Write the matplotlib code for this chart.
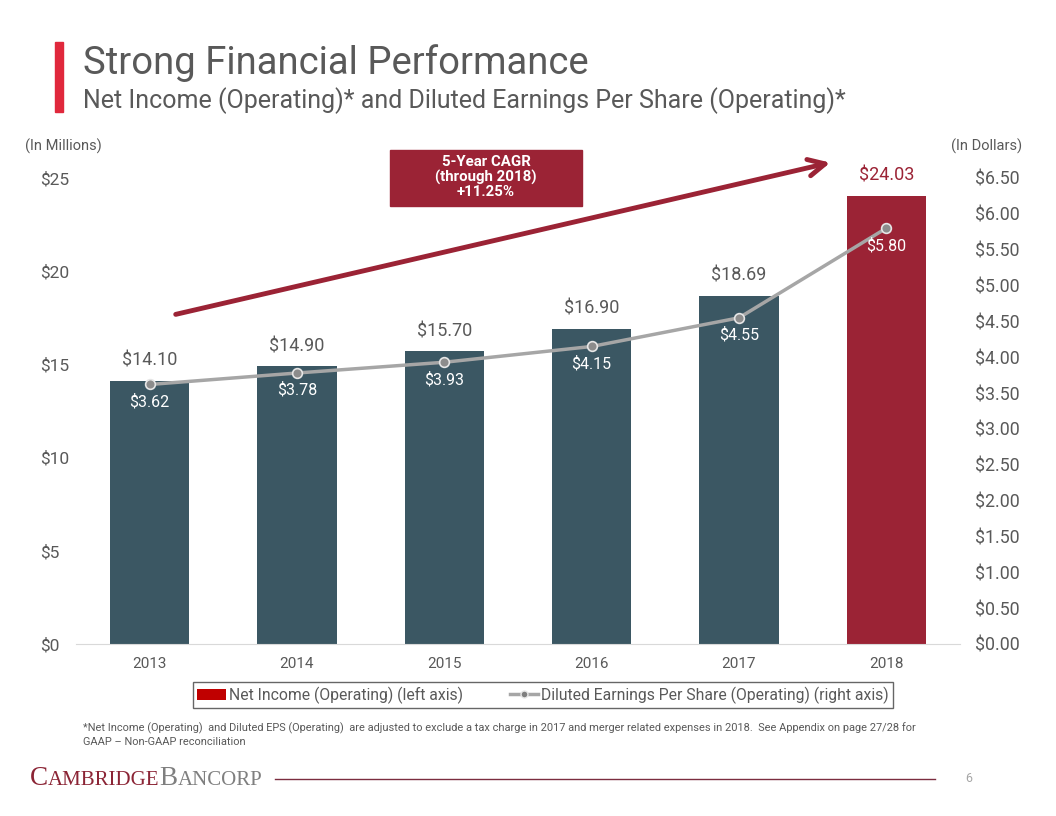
import matplotlib
matplotlib.use("Agg")
import matplotlib.pyplot as plt
from matplotlib.patches import Rectangle, FancyArrowPatch
from matplotlib.lines import Line2D
from matplotlib.patches import Patch

years = ["2013", "2014", "2015", "2016", "2017", "2018"]
net_income = [14.10, 14.90, 15.70, 16.90, 18.69, 24.03]
eps = [3.62, 3.78, 3.93, 4.15, 4.55, 5.80]
left_ticks = [0, 5, 10, 15, 20, 25]
right_ticks = [0, 0.5, 1, 1.5, 2, 2.5, 3, 3.5, 4, 4.5, 5, 5.5, 6, 6.5]

FONT = "Roboto"
GRAY = "#595959"
SLATE = "#3B5763"
RED = "#9B2335"

plt.rcParams["font.family"] = [FONT, "DejaVu Sans"]

fig = plt.figure(figsize=(10.56, 8.16), dpi=100)
W, H = 1056, 816

def fx(px):
    return px / W

def fy(py):
    return 1 - py / H

ax = fig.add_axes([fx(76), fy(644), fx(960) - fx(76), fy(178) - fy(644)])
x = list(range(len(years)))
colors = [SLATE] * (len(years) - 1) + [RED]
bars = ax.bar(x, net_income, width=0.54, color=colors, zorder=2)
ax.set_xlim(-0.5, len(years) - 0.5)
ax.set_ylim(0, 25)
ax.set_yticks(left_ticks)
ax.set_yticklabels([f"${v}" for v in left_ticks])
ax.set_xticks(x)
ax.set_xticklabels(years)
for s in ["top", "right", "left"]:
    ax.spines[s].set_visible(False)
ax.spines["bottom"].set_color("#D9D9D9")
ax.tick_params(axis="y", length=0, pad=26, labelsize=12.5, labelcolor=GRAY)
for lab in ax.get_yticklabels():
    lab.set_horizontalalignment("left")
ax.tick_params(axis="x", length=0, pad=9, labelsize=11, labelcolor=GRAY)

for i, v in enumerate(net_income):
    ax.text(i, v + 0.6, f"${v:.2f}", ha="center", va="bottom", fontsize=13,
            color=(RED if i == len(years) - 1 else GRAY))

ax2 = ax.twinx()
ax2.set_ylim(0, 6.5)
ax2.set_yticks(right_ticks)
ax2.set_yticklabels([f"${v:.2f}" for v in right_ticks])
for s in ["top", "right", "left", "bottom"]:
    ax2.spines[s].set_visible(False)
ax2.tick_params(axis="y", length=0, pad=11, labelsize=12.8, labelcolor=GRAY)
ax2.plot(x, eps, color="#A6A6A6", lw=2.5, marker="o", markersize=7,
         markerfacecolor="#8C8C8C", markeredgecolor="#E6E6E6", markeredgewidth=1.2, zorder=3)
for i, v in enumerate(eps):
    ax2.text(i, v - 0.13, f"${v:.2f}", ha="center", va="top", fontsize=11.5, color="white")

# axis unit labels
fig.text(fx(25), fy(146), "(In Millions)", ha="left", va="center", fontsize=10.5, color=GRAY)
fig.text(fx(1022), fy(146), "(In Dollars)", ha="right", va="center", fontsize=10.5, color=GRAY)

# title
fig.patches.append(Rectangle((fx(55), fy(112)), fx(8), fy(42) - fy(112), transform=fig.transFigure,
                             color="#E0283C", zorder=5))
fig.text(fx(83), fy(63), "Strong Financial Performance", ha="left", va="center", fontsize=27.5, color=GRAY)
fig.text(fx(83), fy(101), "Net Income (Operating)* and Diluted Earnings Per Share (Operating)*",
         ha="left", va="center", fontsize=18, color=GRAY)

# CAGR arrow and box
arr = FancyArrowPatch((fx(173), fy(315)), (fx(833), fy(162)), transform=fig.transFigure,
                      arrowstyle="->,head_length=12,head_width=6", color=RED, lw=3.5,
                      mutation_scale=1, zorder=6)
fig.patches.append(arr)
fig.patches.append(Rectangle((fx(390), fy(206)), fx(582) - fx(390), fy(150) - fy(206),
                             transform=fig.transFigure, color=RED, zorder=7))
fig.text(fx(486), fy(177), "5-Year CAGR\n(through 2018)\n+11.25%", ha="center", va="center",
         fontsize=10.8, fontweight="bold", color="white", linespacing=1.0, zorder=8)

# legend
handles = [Patch(facecolor="#C00000", edgecolor="none"),
           Line2D([0], [0], color="#A6A6A6", lw=2.5, marker="o", markersize=5,
                  markerfacecolor="#7F7F7F", markeredgecolor="#E6E6E6")]
labels = ["Net Income (Operating) (left axis)", "Diluted Earnings Per Share (Operating) (right axis)"]
leg = fig.legend(handles, labels, loc="center", bbox_to_anchor=(fx(543), fy(695)), ncol=2,
                 fontsize=11.3, frameon=True, fancybox=False, edgecolor="#404040",
                 handlelength=1.8, handletextpad=0.2, columnspacing=3.0,
                 borderpad=0.3, labelcolor=GRAY)
leg.get_frame().set_linewidth(1.0)

# footnote
fig.text(fx(83), fy(735),
         "*Net Income (Operating)  and Diluted EPS (Operating)  are adjusted to exclude a tax charge in 2017 and merger related expenses in 2018.  See Appendix on page 27/28 for\nGAAP \u2013 Non-GAAP reconciliation",
         ha="left", va="center", fontsize=7.9, color=GRAY, linespacing=1.4)

# footer logo
xs = fx(30)
t1 = fig.text(xs, fy(785), "C", ha="left", va="baseline", fontsize=19.5, color="#8B2435", family="Liberation Serif")
fig.canvas.draw()
r = fig.canvas.get_renderer()
def nxt(t, s, size, color):
    bb = t.get_window_extent(renderer=r)
    return fig.text(bb.x1 / W, t.get_position()[1], s, ha="left", va="baseline",
                    fontsize=size, color=color, family="Liberation Serif")
t2 = nxt(t1, "AMBRIDGE", 15, "#8B2435")
t3 = nxt(t2, "B", 19.5, "#7F7F7F")
t4 = nxt(t3, "ANCORP", 15, "#7F7F7F")
fig.add_artist(Line2D([fx(275), fx(935)], [fy(779), fy(779)], color="#7B2D3F", lw=1.0))
fig.text(fx(969), fy(778), "6", ha="center", va="center", fontsize=9, color="#A6A6A6")

fig.savefig("out.png", dpi=100)
